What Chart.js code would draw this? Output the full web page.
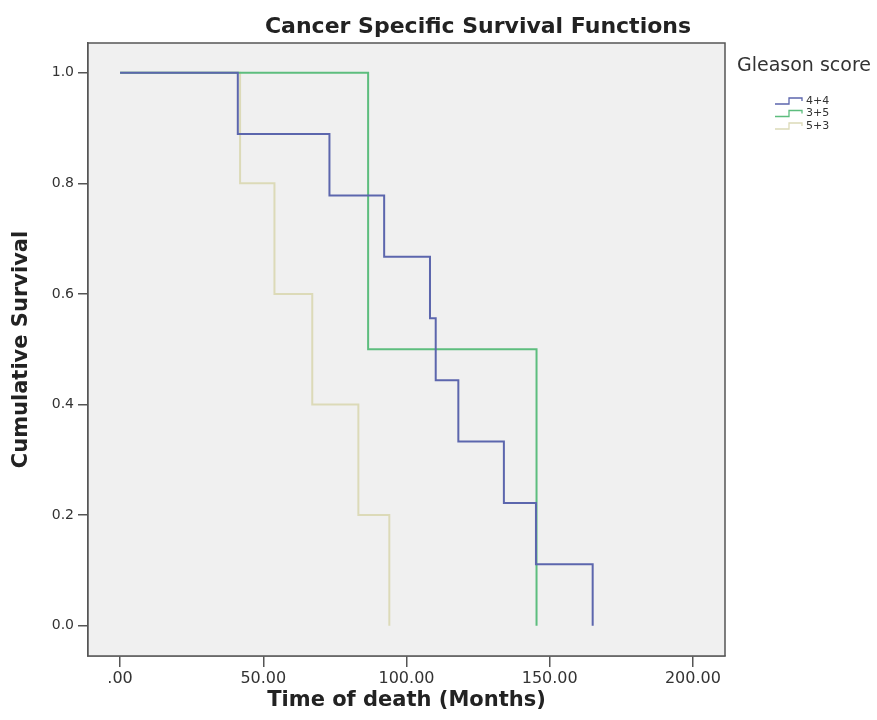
<!DOCTYPE html>
<html>
<head>
<meta charset="utf-8">
<script src="https://cdn.jsdelivr.net/npm/chart.js@4/dist/chart.umd.min.js"></script>
<style>
  html, body { margin: 0; padding: 0; background: #ffffff; }
  #wrap { width: 877px; height: 720px; }
</style>
</head>
<body>
<div id="wrap"><canvas id="c" width="877" height="720"></canvas></div>
<script>
// ---- data ----
const chartTitle = 'Cancer Specific Survival Functions';
const legendTitle = 'Gleason score';
const seriesLabels = ['4+4', '3+5', '5+3'];

const times44 = [0, 41.1, 73.1, 92.2, 108.2, 110.2, 118.1, 134.0, 145.2, 165.0];
const surv44  = [1.0, 0.889, 0.778, 0.667, 0.556, 0.444, 0.333, 0.222, 0.111, 0.0];

const times35 = [0, 86.6, 145.4];
const surv35  = [1.0, 0.5, 0.0];

const times53 = [0, 41.9, 53.9, 67.1, 83.2, 94.0];
const surv53  = [1.0, 0.8, 0.6, 0.4, 0.2, 0.0];

const xTickValues = [0, 50, 100, 150, 200];
const xTickLabels = ['.00', '50.00', '100.00', '150.00', '200.00'];
const yTickValues = [0, 0.2, 0.4, 0.6, 0.8, 1.0];
const yTickLabels = ['0.0', '0.2', '0.4', '0.6', '0.8', '1.0'];

const xTitle = 'Time of death (Months)';
const yTitle = 'Cumulative Survival';

// ---- styling ----
const colors = ['#5c66ad', '#5dbd7e', '#dcdab8'];
const FONT = '"DejaVu Sans", sans-serif';
const TEXT = '#333333';
const AXIS = '#555555';

function pts(t, s) { return t.map((v, i) => ({ x: v, y: s[i] })); }

const datasets = [
  { label: seriesLabels[0], data: pts(times44, surv44) },
  { label: seriesLabels[1], data: pts(times35, surv35) },
  { label: seriesLabels[2], data: pts(times53, surv53) }
].map((d, i) => Object.assign(d, {
  borderColor: colors[i], backgroundColor: colors[i], borderWidth: 2,
  stepped: 'before', pointRadius: 0, fill: false, tension: 0
}));

const framePlugin = {
  id: 'frame',
  beforeDatasetsDraw(chart) {
    const { ctx, chartArea: a } = chart;
    ctx.save();
    ctx.fillStyle = '#f0f0f0';
    ctx.fillRect(a.left, a.top, a.right - a.left, a.bottom - a.top);
    ctx.restore();
  },
  afterDraw(chart) {
    const { ctx, chartArea: a } = chart;
    ctx.save();
    ctx.strokeStyle = AXIS;
    ctx.lineWidth = 1.5;
    ctx.strokeRect(a.left, a.top, a.right - a.left, a.bottom - a.top);

    // title
    ctx.fillStyle = '#222';
    ctx.font = 'bold 22px ' + FONT;
    ctx.textAlign = 'center';
    ctx.textBaseline = 'middle';
    ctx.fillText(chartTitle, 478, 27);

    // legend
    ctx.textAlign = 'left';
    ctx.font = '19px ' + FONT;
    ctx.fillStyle = TEXT;
    ctx.fillText(legendTitle, 737, 66);
    const ys = [101, 113.5, 126];
    ctx.font = '11px ' + FONT;
    chart.data.datasets.forEach((ds, i) => {
      const y = ys[i];
      ctx.strokeStyle = ds.borderColor;
      ctx.lineWidth = 1.3;
      ctx.beginPath();
      ctx.moveTo(775, y + 3);
      ctx.lineTo(789, y + 3);
      ctx.lineTo(789, y - 3);
      ctx.lineTo(802, y - 3);
      ctx.lineTo(802, y);
      ctx.stroke();
      ctx.fillStyle = TEXT;
      ctx.fillText(ds.label, 806, y);
    });
    ctx.restore();
  }
};

new Chart(document.getElementById('c'), {
  type: 'line',
  data: { datasets },
  plugins: [framePlugin],
  options: {
    responsive: false,
    animation: false,
    layout: { padding: { top: 43, right: 152, left: 0, bottom: 0 } },
    plugins: { legend: { display: false }, title: { display: false }, tooltip: { enabled: false } },
    scales: {
      x: {
        type: 'linear', min: -11.2, max: 211.2,
        afterFit(s) { s.height = 64; },
        afterBuildTicks(s) { s.ticks = xTickValues.map(v => ({ value: v })); },
        border: { display: true, color: AXIS, width: 1.5 },
        grid: { display: true, drawOnChartArea: false, drawTicks: true, tickLength: 11, color: AXIS, lineWidth: 1.5 },
        ticks: {
          color: TEXT, padding: 2, maxRotation: 0, autoSkip: false,
          font: { family: FONT, size: 16 },
          callback: (v) => xTickLabels[xTickValues.indexOf(v)]
        },
        title: { display: true, text: xTitle, color: '#222', font: { family: FONT, size: 21, weight: 'bold' }, padding: { top: 0, bottom: 7 } }
      },
      y: {
        type: 'linear', min: -0.0548, max: 1.0537,
        afterFit(s) { s.width = 88; },
        afterBuildTicks(s) { s.ticks = yTickValues.map(v => ({ value: v })); },
        border: { display: true, color: AXIS, width: 1.5 },
        grid: { display: true, drawOnChartArea: false, drawTicks: true, tickLength: 10, color: AXIS, lineWidth: 1.5 },
        ticks: {
          color: TEXT, padding: 4, autoSkip: false,
          font: { family: FONT, size: 14 },
          callback: (v) => yTickLabels[yTickValues.findIndex(t => Math.abs(t - v) < 1e-6)]
        },
        title: { display: true, text: yTitle, color: '#222', font: { family: FONT, size: 21, weight: 'bold' }, padding: { top: 9, bottom: 0 } }
      }
    }
  }
});
</script>
</body>
</html>
